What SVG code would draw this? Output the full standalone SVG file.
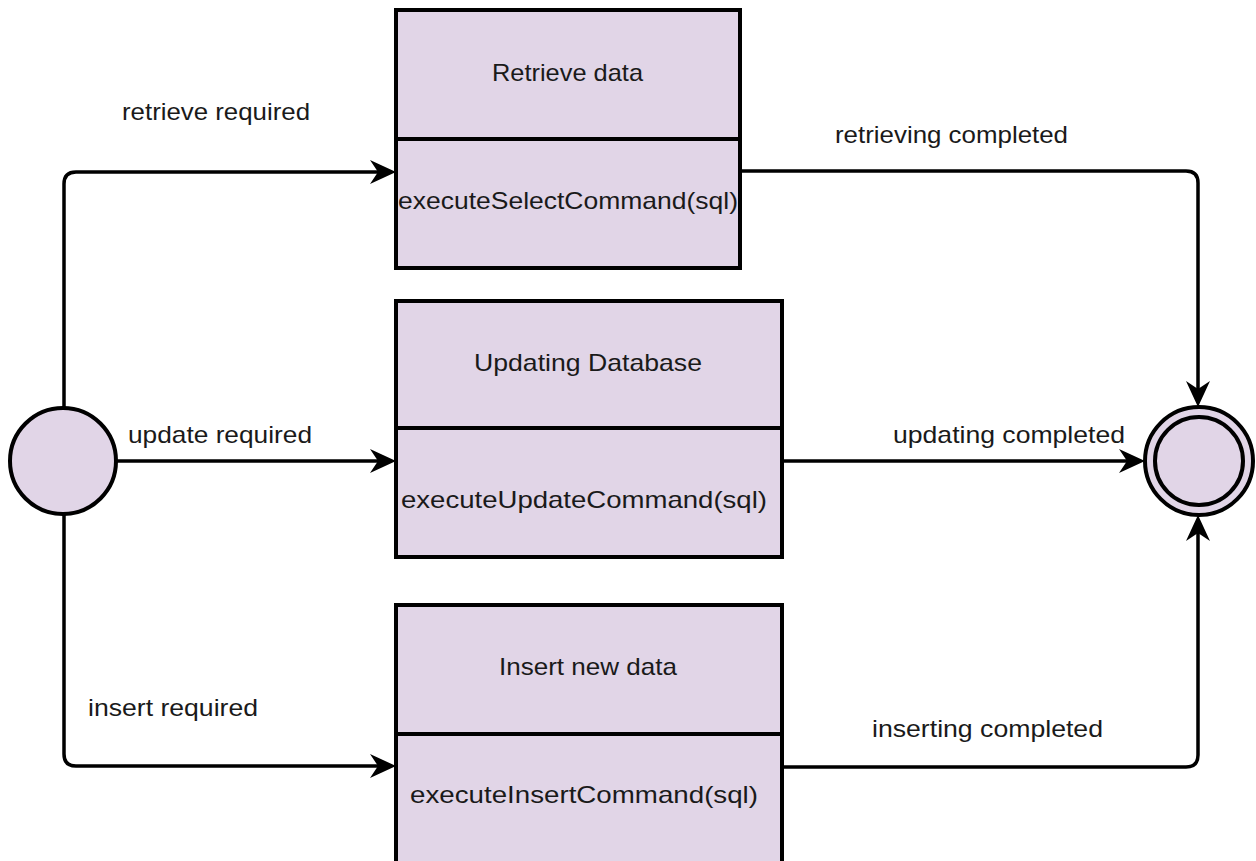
<svg xmlns="http://www.w3.org/2000/svg" width="1256" height="861" viewBox="0 0 1256 861">
<style>
.box{fill:#e1d5e7;stroke:#000;stroke-width:4}
.div{stroke:#000;stroke-width:4;fill:none}
.c{fill:none;stroke:#000;stroke-width:3.5}
.t{font-family:"Liberation Sans",Arial,sans-serif;font-size:24px;fill:#1a1a1a}
</style>
<defs>
<marker id="arr" markerUnits="userSpaceOnUse" viewBox="-20 -14 30 28" markerWidth="30" markerHeight="28" refX="0" refY="0" orient="auto" overflow="visible">
<path d="M8,0 L-18,-12 L-10,0 L-18,12 Z" fill="#000"/>
</marker>
</defs>
<rect width="1256" height="861" fill="#fff"/>
<g id="connectors">
<path class="c" d="M64,407 V184 Q64,172 76,172 H388" marker-end="url(#arr)"/>
<path class="c" d="M117,461 H388" marker-end="url(#arr)"/>
<path class="c" d="M64,515 V754 Q64,766 76,766 H388" marker-end="url(#arr)"/>
<path class="c" d="M740,171 H1186 Q1198,171 1198,183 V399" marker-end="url(#arr)"/>
<path class="c" d="M782,461 H1137" marker-end="url(#arr)"/>
<path class="c" d="M782,767 H1186 Q1198,767 1198,755 V523" marker-end="url(#arr)"/>
</g>
<g id="labels">
<text class="t" x="122" y="120" textLength="188" lengthAdjust="spacingAndGlyphs">retrieve required</text>
<text class="t" x="128" y="443" textLength="184" lengthAdjust="spacingAndGlyphs">update required</text>
<text class="t" x="88" y="716" textLength="170" lengthAdjust="spacingAndGlyphs">insert required</text>
<text class="t" x="835" y="143" textLength="233" lengthAdjust="spacingAndGlyphs">retrieving completed</text>
<text class="t" x="893" y="443" textLength="232" lengthAdjust="spacingAndGlyphs">updating completed</text>
<text class="t" x="872" y="737" textLength="231" lengthAdjust="spacingAndGlyphs">inserting completed</text>
</g>
<g id="initial">
<circle cx="63" cy="461" r="53" fill="#e1d5e7" stroke="#000" stroke-width="4"/>
</g>
<g id="final">
<circle cx="1199" cy="461" r="54" fill="#e1d5e7" stroke="#000" stroke-width="4"/>
<circle cx="1199" cy="461" r="44" fill="#e1d5e7" stroke="#000" stroke-width="4"/>
</g>
<g id="retrieve">
<rect class="box" x="396" y="10" width="344" height="258"/>
<line class="div" x1="396" y1="139" x2="740" y2="139"/>
<text class="t" x="492" y="81" textLength="151" lengthAdjust="spacingAndGlyphs">Retrieve data</text>
<text class="t" x="398" y="209" textLength="340" lengthAdjust="spacingAndGlyphs">executeSelectCommand(sql)</text>
</g>
<g id="update">
<rect class="box" x="396" y="301" width="386" height="256"/>
<line class="div" x1="396" y1="428" x2="782" y2="428"/>
<text class="t" x="474" y="371" textLength="228" lengthAdjust="spacingAndGlyphs">Updating Database</text>
<text class="t" x="401" y="508" textLength="366" lengthAdjust="spacingAndGlyphs">executeUpdateCommand(sql)</text>
</g>
<g id="insert">
<rect class="box" x="396" y="605" width="386" height="270"/>
<line class="div" x1="396" y1="734" x2="782" y2="734"/>
<text class="t" x="499" y="675" textLength="178" lengthAdjust="spacingAndGlyphs">Insert new data</text>
<text class="t" x="410" y="803" textLength="348" lengthAdjust="spacingAndGlyphs">executeInsertCommand(sql)</text>
</g>
</svg>
